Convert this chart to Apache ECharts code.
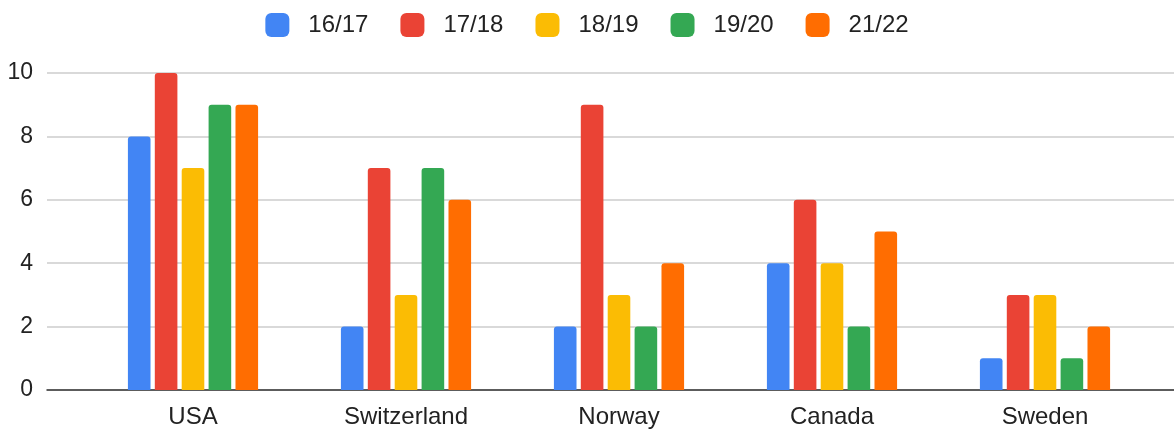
<!DOCTYPE html>
<html>
<head>
<meta charset="utf-8">
<title>Chart</title>
<script src="https://cdn.jsdelivr.net/npm/echarts@6/dist/echarts.min.js"></script>
<style>
  html, body { margin: 0; padding: 0; background: #fff; }
  #chart { width: 1174px; height: 432px; }
</style>
</head>
<body>
<div id="chart"></div>
<script>
// Data
const categories = ['USA', 'Switzerland', 'Norway', 'Canada', 'Sweden'];
const seasons = ['16/17', '17/18', '18/19', '19/20', '21/22'];
const s1617 = [8, 2, 2, 4, 1];
const s1718 = [10, 7, 9, 6, 3];
const s1819 = [7, 3, 3, 4, 3];
const s1920 = [9, 7, 2, 2, 1];
const s2122 = [9, 6, 4, 5, 2];
const yTicks = [0, 2, 4, 6, 8, 10];

const colors = ['#4285F4', '#EA4335', '#FBBC04', '#34A853', '#FF6D01'];
const seriesData = [s1617, s1718, s1819, s1920, s2122];

const chart = echarts.init(document.getElementById('chart'));
const font = '"Liberation Sans", Arial, sans-serif';

const option = {
    animation: false,
    color: colors,
    legend: {
        top: 13,
        left: 'center',
        padding: 0,
        itemWidth: 24,
        itemHeight: 24,
        itemGap: 32,
        icon: 'roundRect',
        textStyle: { fontSize: 24, color: '#222', fontFamily: font, padding: [0, 0, 0, 14] },
        data: seasons
    },
    grid: [
        // background grid: gridlines and y labels span the full width
        { left: 47, right: 0, top: 73, bottom: 42 },
        // bars grid
        { left: 86.5, right: 22.5, top: 73, bottom: 42 }
    ],
    xAxis: [
        {
            gridIndex: 0, type: 'value', min: 0, max: 1,
            axisLine: { show: true, lineStyle: { color: '#333', width: 1.5 } },
            axisTick: { show: false }, axisLabel: { show: false }, splitLine: { show: false }
        },
        {
            gridIndex: 1, type: 'category', data: categories,
            axisLine: { show: false }, axisTick: { show: false },
            axisLabel: { fontSize: 24, color: '#222', fontFamily: font, margin: 15 }
        }
    ],
    yAxis: [
        {
            gridIndex: 0, type: 'value', min: yTicks[0], max: yTicks[yTicks.length - 1], interval: 2,
            axisLine: { show: false }, axisTick: { show: false },
            axisLabel: { fontSize: 23, color: '#222', fontFamily: font, margin: 14 },
            splitLine: { show: true, lineStyle: { color: '#cccccc', width: 1.5 } }
        },
        {
            gridIndex: 1, type: 'value', min: 0, max: 10, interval: 2,
            show: false
        }
    ],
    series: seasons.map((name, i) => ({
        name: name,
        type: 'bar',
        xAxisIndex: 1,
        yAxisIndex: 1,
        data: seriesData[i],
        barWidth: 22.6,
        barGap: '19%',
        itemStyle: { color: colors[i], borderRadius: [3, 3, 0, 0] }
    }))
};

chart.setOption(option);
</script>
</body>
</html>
